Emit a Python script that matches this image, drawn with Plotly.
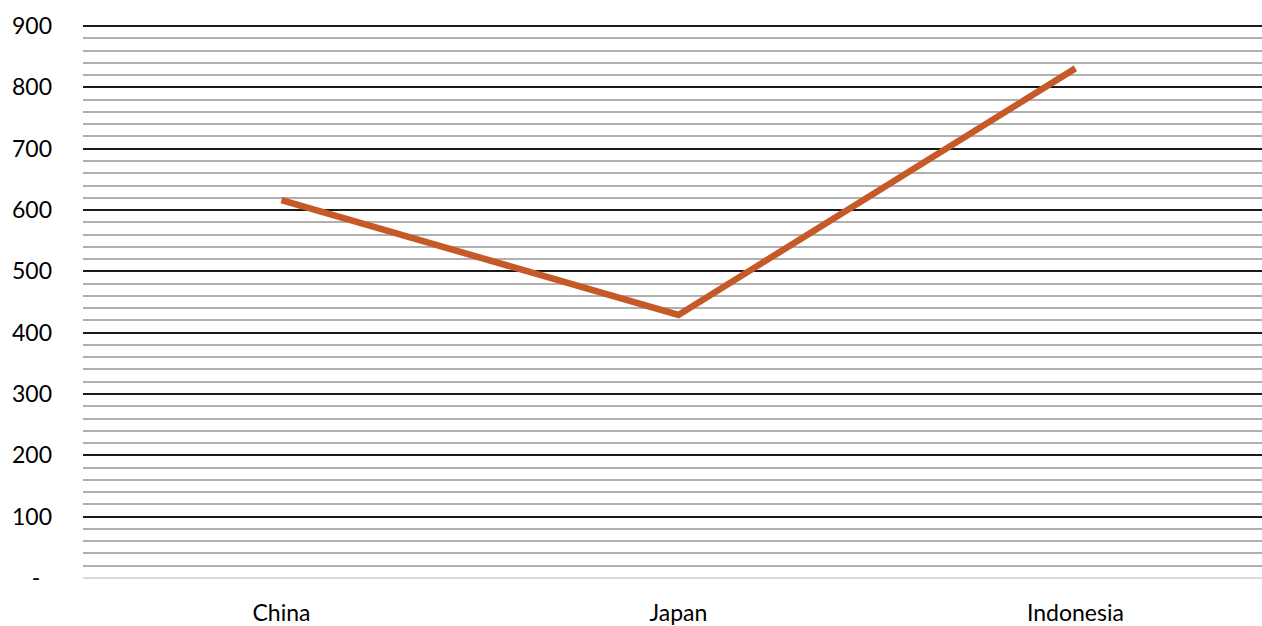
import plotly.graph_objects as go

countries = ["China", "Japan", "Indonesia"]
values = [616, 429, 831]

y_ticks = [0, 100, 200, 300, 400, 500, 600, 700, 800, 900]
y_labels = ["-\u00a0\u00a0"] + [str(v) for v in y_ticks[1:]]

font = dict(family="Lato, Open Sans, sans-serif", size=23, color="#000000")

fig = go.Figure()
fig.add_trace(
    go.Scatter(
        x=countries,
        y=values,
        mode="lines",
        line=dict(color="#C55A28", width=6.5),
        showlegend=False,
    )
)

fig.update_xaxes(
    type="category",
    range=[-0.5, 2.47],
    showgrid=False,
    zeroline=False,
    showline=False,
    ticks="",
    tickfont=font,
    ticklabelstandoff=19,
    automargin=False,
)
fig.update_yaxes(
    range=[0, 905],
    tickvals=y_ticks,
    ticktext=y_labels,
    tickfont=font,
    showgrid=True,
    gridcolor="#1a1a1a",
    gridwidth=2,
    zeroline=True,
    zerolinecolor="#d9d9d9",
    zerolinewidth=2,
    minor=dict(dtick=20, showgrid=True, gridcolor="#b0b0b0", gridwidth=2),
    ticks="",
    ticklabelstandoff=30,
    automargin=False,
)

fig.update_layout(
    width=1262,
    height=626,
    margin=dict(l=83, r=0, t=23, b=48),
    paper_bgcolor="white",
    plot_bgcolor="white",
    font=font,
)

# drop the default 8px body margin so the figure fills the window
fig.write_html(
    "out.html",
    config={"displayModeBar": False},
    post_script="document.body.style.margin='0';"
    "document.documentElement.style.overflow='hidden';",
)
